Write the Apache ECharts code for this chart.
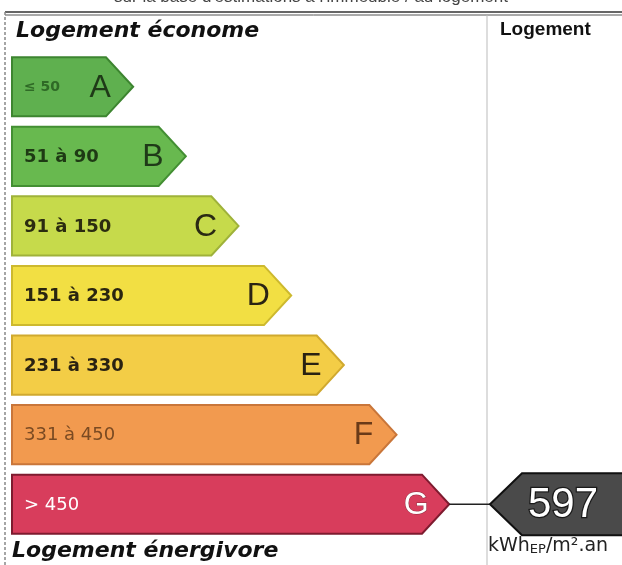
<!DOCTYPE html>
<html>
<head>
<meta charset="utf-8">
<script src="https://cdn.jsdelivr.net/npm/echarts@6/dist/echarts.min.js"></script>
<style>
  html, body { margin: 0; padding: 0; background: #fff; }
  #main { width: 622px; height: 565px; }
</style>
</head>
<body>
<div id="main"></div>
<script>
// classes energie (kWhEP/m2.an)
const classes = ['A', 'B', 'C', 'D', 'E', 'F', 'G'];
const ranges = ['≤ 50', '51 à 90', '91 à 150', '151 à 230', '231 à 330', '331 à 450', '> 450'];
const barLen = [23, 33, 43, 53, 63, 73, 83];   // longueur des fleches
const currentValue = 597;
const currentClass = 'G';

const fills   = ['#5fb04f', '#68b94f', '#c6da4b', '#f2df43', '#f3cd46', '#f29a4f', '#d83d5c'];
const strokes = ['#3d8530', '#438f33', '#9fb23a', '#cdb92e', '#d0a92f', '#c9763a', '#7e1b2f'];
const rangeColors = ['#2f6a26', '#1e3a14', '#2b2c10', '#2a2510', '#2a2212', '#7a4a22', '#ffffff'];
const letterColors = ['#1f3a18', '#1f3a18', '#2a2a14', '#2a2414', '#2a2212', '#6a3a18', '#ffffff'];

const chart = echarts.init(document.getElementById('main'), null, { renderer: 'canvas' });

function renderBar(params, api) {
  const i = api.value(1);
  const len = api.value(0);
  const p0 = api.coord([0, i]);
  const p1 = api.coord([len, i]);
  const band = api.size([0, 1])[1];
  const h = band * 0.85;
  const tip = h * 0.46;
  const y0 = p0[1] - h / 2, y1 = p0[1] + h / 2;
  const x0 = p0[0], x1 = p1[0];
  const isA = i === 0;
  return {
    type: 'group',
    children: [
      {
        type: 'polygon',
        shape: { points: [[x0, y0], [x1 - tip, y0], [x1, p0[1]], [x1 - tip, y1], [x0, y1]] },
        style: { fill: fills[i], stroke: strokes[i], lineWidth: 2 }
      },
      {
        type: 'text',
        style: {
          text: ranges[i], x: x0 + 12, y: p0[1] + 1,
          fill: rangeColors[i],
          font: (i >= 5 ? 'normal ' : 'bold ') + (isA ? 14 : 18) + 'px "DejaVu Sans"',
          textVerticalAlign: 'middle'
        }
      },
      {
        type: 'text',
        style: {
          text: classes[i], x: x1 - 33, y: p0[1] + 1,
          fill: letterColors[i],
          stroke: i === 6 ? '#8a2a3c' : null, lineWidth: i === 6 ? 1 : 0,
          font: 'normal 32px "Liberation Sans"',
          textAlign: 'center', textVerticalAlign: 'middle'
        }
      }
    ]
  };
}

function renderMarker(params, api) {
  const i = api.value(1);
  const pTip = api.coord([barLen[i], i]);
  const yc = pTip[1];
  const h = 62, ax = 490, body = 522;
  return {
    type: 'group',
    children: [
      { type: 'line', shape: { x1: pTip[0], y1: yc, x2: ax, y2: yc }, style: { stroke: '#222', lineWidth: 1.5 } },
      {
        type: 'polygon',
        shape: { points: [[ax, yc], [body, yc - h / 2], [660, yc - h / 2], [660, yc + h / 2], [body, yc + h / 2]] },
        style: { fill: '#4a4a4a', stroke: '#111', lineWidth: 2 }
      },
      {
        type: 'text',
        style: {
          text: String(api.value(0)), x: 563, y: yc + 1,
          fill: '#fff', stroke: '#1a1a1a', lineWidth: 2.5,
          font: 'normal 42px "Liberation Sans"',
          textAlign: 'center', textVerticalAlign: 'middle'
        }
      }
    ]
  };
}

const option = {
  animation: false,
  backgroundColor: '#fff',
  grid: { left: 12, right: 0, top: 52, height: 487 },
  xAxis: { type: 'value', min: 0, max: 115.8, show: false },
  yAxis: { type: 'category', data: classes, inverse: true, show: false },
  graphic: [
    {
      type: 'text', left: 'center', top: -11,
      style: { text: "sur la base d'estimations à l'immeuble / au logement", font: '17px "Liberation Sans"', fill: '#444' }
    },
    { type: 'line', shape: { x1: 5, y1: 12, x2: 622, y2: 12 }, style: { stroke: '#333', lineWidth: 1.5 } },
    { type: 'line', shape: { x1: 5, y1: 15, x2: 622, y2: 15 }, style: { stroke: '#555', lineWidth: 1 } },
    { type: 'line', shape: { x1: 5, y1: 12, x2: 5, y2: 565 }, style: { stroke: '#888', lineWidth: 1.5, lineDash: [3, 2] } },
    { type: 'line', shape: { x1: 487, y1: 15, x2: 487, y2: 565 }, style: { stroke: '#bbb', lineWidth: 1 } },
    {
      type: 'text', left: 16, top: 20,
      style: { text: 'Logement économe', font: 'italic bold 22px "DejaVu Sans"', fill: '#111' }
    },
    {
      type: 'text', left: 500, top: 20,
      style: { text: 'Logement', font: 'bold 19px "Liberation Sans"', fill: '#111' }
    },
    {
      type: 'text', left: 12, top: 540,
      style: { text: 'Logement énergivore', font: 'italic bold 22px "DejaVu Sans"', fill: '#111' }
    },
    {
      type: 'text', left: 488, top: 537,
      style: {
        text: 'kWh{s|EP}/m².an',
        font: '19px "DejaVu Sans"', fill: '#222',
        rich: { s: { fontSize: 13, fontFamily: 'DejaVu Sans', fill: '#222', padding: [7, 0, 0, 0] } }
      }
    }
  ],
  series: [
    {
      type: 'custom',
      renderItem: renderBar,
      encode: { x: 0, y: 1 },
      data: barLen.map((v, i) => [v, i])
    },
    {
      type: 'custom',
      renderItem: renderMarker,
      encode: { x: 0, y: 1 },
      data: [[currentValue, classes.indexOf(currentClass)]],
      clip: false
    }
  ]
};

chart.setOption(option);
</script>
</body>
</html>
